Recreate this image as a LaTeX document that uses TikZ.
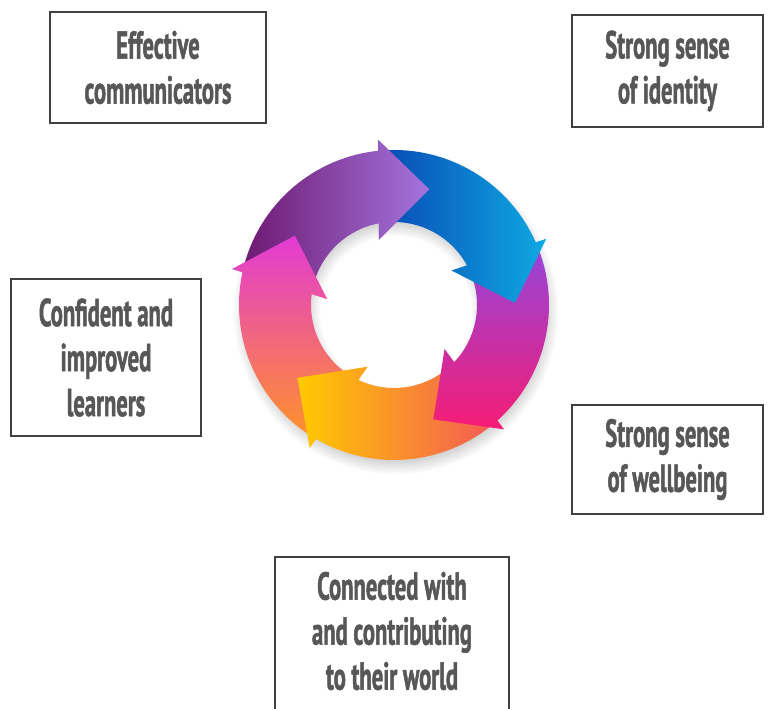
\documentclass[tikz,border=0pt]{standalone}
\usepackage{fontspec}
\newfontfamily\labfont[FakeStretch=0.58, FakeBold=1.2]{PT Sans}
\definecolor{txt}{HTML}{575757}
\definecolor{framec}{HTML}{404040}
\definecolor{pA}{HTML}{6E1A72}
\definecolor{pB}{HTML}{A474DE}
\definecolor{bA}{HTML}{0A4CB6}
\definecolor{bB}{HTML}{0EAAE2}
\definecolor{mA}{HTML}{9446DA}
\definecolor{mB}{HTML}{F61C74}
\definecolor{oA}{HTML}{FFCA00}
\definecolor{oM}{HTML}{FFA22A}
\definecolor{oB}{HTML}{F45A56}
\definecolor{kA}{HTML}{E23AD4}
\definecolor{kM}{HTML}{F26478}
\definecolor{kB}{HTML}{FF922A}
\newcommand{\ringarrow}[1]{(#1+93:155) arc[start angle=#1+93, end angle=#1+22.85, radius=155] -- (#1+22.5:166) -- (#1:121) -- (#1+30:67) -- (#1+27.55:83) arc[start angle=#1+27.55, end angle=#1+93, radius=83] -- cycle}
\newcommand{\ringhead}[1]{(#1+22.5:166) -- (#1:121) -- (#1+30:67) -- cycle}
\tikzset{
  framebox/.style={draw=framec, line width=1.5pt, fill=white, inner sep=0pt},
  lab/.style={font=\labfont\bfseries\fontsize{39}{45}\selectfont, text=txt, align=center},
}
\begin{document}
\begin{tikzpicture}[x=1pt,y=-1pt]
\useasboundingbox[fill=white] (0,0) rectangle (769,709);
\begin{scope}
\clip (0,0) rectangle (769,709);
% boxes
\node[framebox, lab, minimum width=216pt, minimum height=111pt] (b1) at (158,67.5) {Effective\\communicators};
\node[framebox, lab, minimum width=191pt, minimum height=112pt] (b2) at (667.5,71) {Strong sense\\of identity};
\node[framebox, lab, minimum width=190pt, minimum height=157pt] (b3) at (106,357.5) {Confident and\\improved\\learners};
\node[framebox, lab, minimum width=191pt, minimum height=109pt] (b4) at (667.5,459.5) {Strong sense\\of wellbeing};
\node[framebox, minimum width=234pt, minimum height=220pt, anchor=north] (b5) at (392,556) {};
\node[lab] (t5) at (392,631) {Connected with\\and contributing\\to their world};
% ring
\begin{scope}[shift={(394,305)}, y=1pt]
\foreach \s in {0,...,6}
  \fill[black, opacity=0.025, even odd rule] (2,-7) circle[radius=150+\s*2] (2,-7) circle[radius=88-\s*2];
\shade[left color=pA, right color=pB] \ringarrow{73};
\shade[top color=kA, middle color=kM, bottom color=kB] \ringarrow{-215};
\shade[left color=oA, middle color=oM, right color=oB] \ringarrow{-143};
\shade[top color=mA, bottom color=mB] \ringarrow{-71};
\shade[left color=bA, right color=bB] \ringarrow{1};
\begin{scope}
\clip \ringhead{73};
\shade[left color=pA, right color=pB] \ringarrow{73};
\end{scope}
\end{scope}
\end{scope}
\end{tikzpicture}
\end{document}
